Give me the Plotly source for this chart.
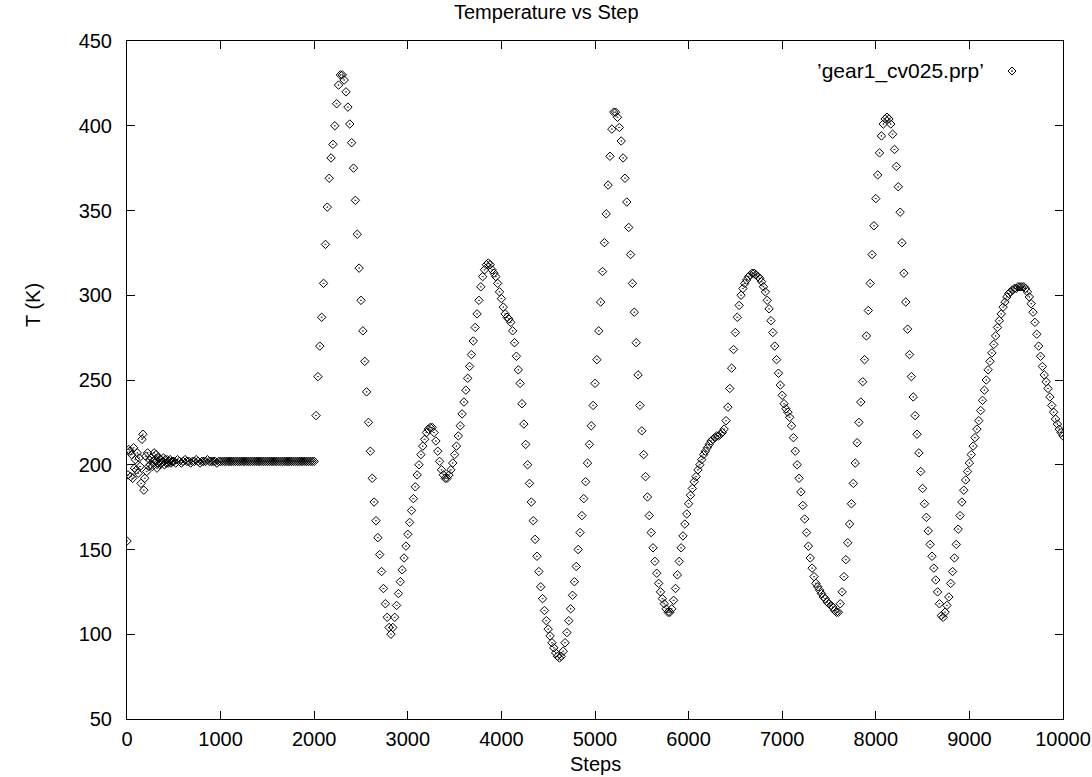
import plotly.graph_objects as go

# ---- data ----
# early start-up region, every 10 steps (0 .. 490)
early_start = 0
early_step = 10
early_temps = [
    155, 194, 209, 208, 193, 206, 192, 210, 198, 203,   # 0..90
    197, 207, 195, 204, 199, 189, 215, 218, 185, 192,   # 100..190
    205, 196, 207, 199, 203, 200, 204, 199, 202, 207,   # 200..290
    203, 206, 198, 201, 204, 200, 203, 201, 202, 204,   # 300..390
    200, 203, 201, 203, 201, 202, 203, 201, 202, 202,   # 400..490
]

# main run, every 20 steps (500 .. 10000)
main_start = 500
main_step = 20
main_temps = [
    202, 201, 203, 202, 201, 202, 203, 202, 202, 201,   # 500
    202, 202, 203, 202, 201, 202, 202, 202, 203, 202,   # 700
    202, 202, 202, 201, 202, 202, 202, 202, 202, 202,   # 900
    202, 202, 202, 202, 202, 202, 202, 202, 202, 202,   # 1100
    202, 202, 202, 202, 202, 202, 202, 202, 202, 202,   # 1300
    202, 202, 202, 202, 202, 202, 202, 202, 202, 202,   # 1500
    202, 202, 202, 202, 202, 202, 202, 202, 202, 202,   # 1700
    202, 202, 202, 202, 202, 202, 229, 252, 270, 287,   # 1900
    307, 330, 352, 369, 381, 389, 400, 413, 424, 430,   # 2100
    430, 427, 420, 411, 401, 390, 375, 356, 336, 316,   # 2300
    297, 279, 261, 243, 225, 208, 192, 178, 167, 157,   # 2500
    147, 137, 127, 118, 110, 104, 100, 104, 110, 117,   # 2700
    124, 131, 138, 145, 152, 159, 166, 173, 180, 187,   # 2900
    194, 200, 206, 211, 215, 219, 221, 222, 222, 219,   # 3100
    214, 208, 202, 197, 194, 192, 192, 194, 197, 201,   # 3300
    206, 211, 217, 223, 230, 237, 244, 251, 258, 265,   # 3500
    273, 281, 289, 297, 305, 311, 315, 318, 319, 318,   # 3700
    315, 313, 311, 307, 302, 298, 293, 289, 287, 286,   # 3900
    284, 279, 272, 264, 256, 248, 236, 224, 212, 200,   # 4100
    189, 178, 167, 156, 146, 137, 128, 121, 114, 108,   # 4300
    103, 99, 95, 92, 89, 87, 86, 87, 90, 95,            # 4500
    101, 108, 115, 123, 131, 140, 150, 160, 170, 180,   # 4700
    190, 201, 212, 223, 235, 248, 262, 279, 296, 314,   # 4900
    331, 348, 365, 382, 398, 408, 408, 405, 399, 391,   # 5100
    381, 369, 355, 340, 324, 307, 290, 272, 253, 235,   # 5300
    220, 206, 193, 181, 170, 160, 151, 143, 136, 130,   # 5500
    125, 121, 118, 115, 113, 113, 115, 120, 127, 135,   # 5700
    143, 151, 158, 165, 171, 177, 182, 186, 190, 193,   # 5900
    197, 200, 203, 206, 208, 210, 212, 214, 215, 216,   # 6100
    217, 217, 218, 219, 221, 226, 234, 245, 257, 268,   # 6300
    278, 287, 294, 300, 304, 307, 309, 311, 312, 313,   # 6500
    313, 312, 311, 310, 308, 305, 302, 297, 292, 285,   # 6700
    278, 270, 262, 254, 247, 241, 236, 233, 231, 228,   # 6900
    223, 216, 208, 200, 192, 184, 176, 168, 160, 152,   # 7100
    145, 139, 134, 130, 128, 126, 124, 122, 121, 119,   # 7300
    118, 117, 116, 114, 113, 113, 118, 125, 134, 144,   # 7500
    154, 165, 177, 189, 201, 213, 225, 237, 249, 262,   # 7700
    276, 291, 307, 324, 341, 357, 371, 384, 394, 401,   # 7900
    404, 405, 404, 401, 395, 386, 376, 364, 349, 331,   # 8100
    313, 296, 280, 265, 252, 240, 229, 218, 207, 196,   # 8300
    186, 177, 169, 161, 153, 146, 139, 132, 125, 118,   # 8500
    111, 110, 113, 117, 122, 130, 137, 145, 153, 162,   # 8700
    170, 178, 185, 191, 196, 201, 206, 211, 216, 221,   # 8900
    226, 232, 238, 244, 250, 256, 261, 266, 271, 276,   # 9100
    281, 285, 289, 293, 296, 299, 301, 302, 303, 304,   # 9300
    304, 305, 305, 305, 305, 304, 302, 299, 295, 290,   # 9500
    284, 277, 270, 264, 258, 253, 249, 245, 240, 235,   # 9700
    231, 227, 224, 221, 219, 217,                       # 9900
]

series_name = "\u2019gear1_cv025.prp\u2019"
title_text = "Temperature vs Step"
x_title = "Steps"
y_title = "T (K)"
x_range = [0, 10000]
y_range = [50, 450]

steps = [early_start + early_step * i for i in range(len(early_temps))] + \
        [main_start + main_step * i for i in range(len(main_temps))]
temps = early_temps + main_temps

# ---- figure ----
W, H = 1092, 777
ML, MR, MT, MB = 127, 29, 41, 58
PW, PH = W - ML - MR, H - MT - MB

FONT = "Liberation Sans, Arial, Helvetica, sans-serif"
FS = 20

fig = go.Figure()
fig.add_trace(go.Scatter(
    x=steps, y=temps, mode="markers", name=series_name, showlegend=False,
    marker=dict(symbol="diamond-open-dot", size=6.5, color="black",
                line=dict(width=1, color="black")),
))

axis_common = dict(
    showgrid=False, zeroline=False, showline=True, linecolor="black", linewidth=1,
    mirror="ticks", ticks="inside", ticklen=8, tickwidth=1, tickcolor="black",
    tickfont=dict(family=FONT, size=FS, color="black"), automargin=False,
)
fig.update_xaxes(range=x_range, dtick=1000, tick0=0, tickformat="d",
                 ticklabelstandoff=2, **axis_common)
fig.update_yaxes(range=y_range, dtick=50, tick0=0, tickformat="d",
                 ticklabelstandoff=10, **axis_common)

def px_x(p):
    return (p - ML) / PW

def px_y(p):
    return (H - MB - p) / PH

annotations = [
    dict(text=title_text, x=px_x(W / 2), y=px_y(12), xref="paper", yref="paper",
         showarrow=False, xanchor="center", yanchor="middle",
         font=dict(family=FONT, size=FS, color="black")),
    dict(text=x_title, x=0.5, y=px_y(764), xref="paper", yref="paper",
         showarrow=False, xanchor="center", yanchor="middle",
         font=dict(family=FONT, size=FS, color="black")),
    dict(text=y_title, x=px_x(33), y=px_y(305), xref="paper", yref="paper",
         showarrow=False, xanchor="center", yanchor="middle", textangle=-90,
         font=dict(family=FONT, size=FS, color="black")),
    dict(text=series_name, x=px_x(815), y=px_y(71), xref="paper", yref="paper",
         showarrow=False, xanchor="left", yanchor="middle",
         font=dict(family=FONT, size=21, color="black")),
]

# legend key: small open diamond with a centre dot (drawn in pixel units)
cx, cy, r = 1012, 71, 4.0
path = "M {} {} L {} {} L {} {} L {} {} Z".format(
    px_x(cx - r), px_y(cy), px_x(cx), px_y(cy - r),
    px_x(cx + r), px_y(cy), px_x(cx), px_y(cy + r))
shapes = [
    dict(type="path", path=path, xref="paper", yref="paper",
         line=dict(color="black", width=1), fillcolor="rgba(0,0,0,0)"),
    dict(type="circle", xref="paper", yref="paper",
         x0=px_x(cx - 0.6), x1=px_x(cx + 0.6), y0=px_y(cy + 0.6), y1=px_y(cy - 0.6),
         line=dict(color="black", width=0.5), fillcolor="black"),
]

fig.update_layout(
    width=W, height=H,
    margin=dict(l=ML, r=MR, t=MT, b=MB, pad=0),
    paper_bgcolor="white", plot_bgcolor="white",
    font=dict(family=FONT, size=FS, color="black"),
    annotations=annotations, shapes=shapes,
    showlegend=False,
)

fig.write_html("out.html",
               config={"displayModeBar": False},
               post_script="document.body.style.margin='0';document.body.style.overflow='hidden';")
